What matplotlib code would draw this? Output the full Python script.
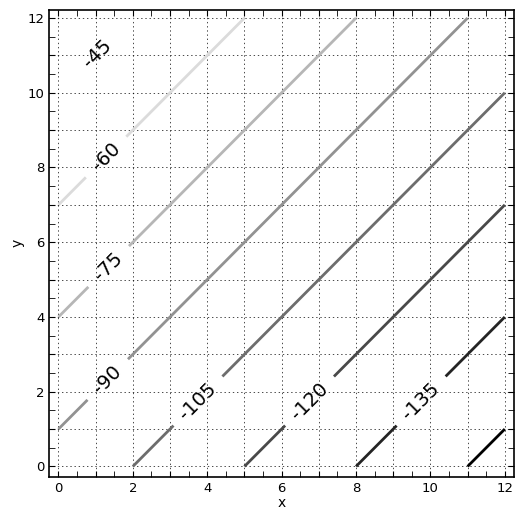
import matplotlib
matplotlib.use('Agg')
import matplotlib.pyplot as plt
import numpy as np
from matplotlib.ticker import MultipleLocator, FuncFormatter

# grid of the field (linear in y - x)
x = np.linspace(0, 12, 121)
y = np.linspace(0, 12, 121)
slope = 5          # z change per unit of (y - x)
offset = -95       # z at y == x
levels = [-150, -135, -120, -105, -90, -75, -60, -45]
label_pos = [(9.7, 1.8), (6.7, 1.8), (3.7, 1.8), (1.3, 2.35), (1.35, 5.35), (1.28, 8.28), (1.05, 11.05)]

X, Y = np.meshgrid(x, y)
Z = slope * (Y - X) + offset

fig, ax = plt.subplots(figsize=(5.23, 5.15), dpi=100)
fig.subplots_adjust(left=0.094, right=0.983, top=0.981, bottom=0.074)

cs = ax.contour(X, Y, Z, levels=levels, cmap='gray', vmin=-150, vmax=-45, linewidths=2)
ax.clabel(cs, colors='k', fontsize=14, inline=True, inline_spacing=14,
          fmt='%d', manual=label_pos)

ax.set_xlim(-0.25, 12.25)
ax.set_ylim(-0.28, 12.22)
ax.xaxis.set_major_locator(MultipleLocator(1))
ax.yaxis.set_major_locator(MultipleLocator(1))
ax.xaxis.set_minor_locator(MultipleLocator(0.5))
ax.yaxis.set_minor_locator(MultipleLocator(0.5))
even = FuncFormatter(lambda v, p: '%d' % v if int(round(v)) % 2 == 0 else '')
ax.xaxis.set_major_formatter(even)
ax.yaxis.set_major_formatter(even)
ax.tick_params(which='both', direction='in', top=True, right=True, labelsize=9.5)
ax.tick_params(which='major', length=4)
ax.tick_params(which='minor', length=4)
ax.grid(True, color='k', linestyle=(0, (2, 4)), linewidth=0.5)
ax.set_axisbelow(True)
for s in ax.spines.values():
    s.set_linewidth(1.2)

ax.set_xlabel('x', fontsize=10, labelpad=1)
ax.set_ylabel('y', fontsize=10, labelpad=2)

fig.savefig('out.png')
